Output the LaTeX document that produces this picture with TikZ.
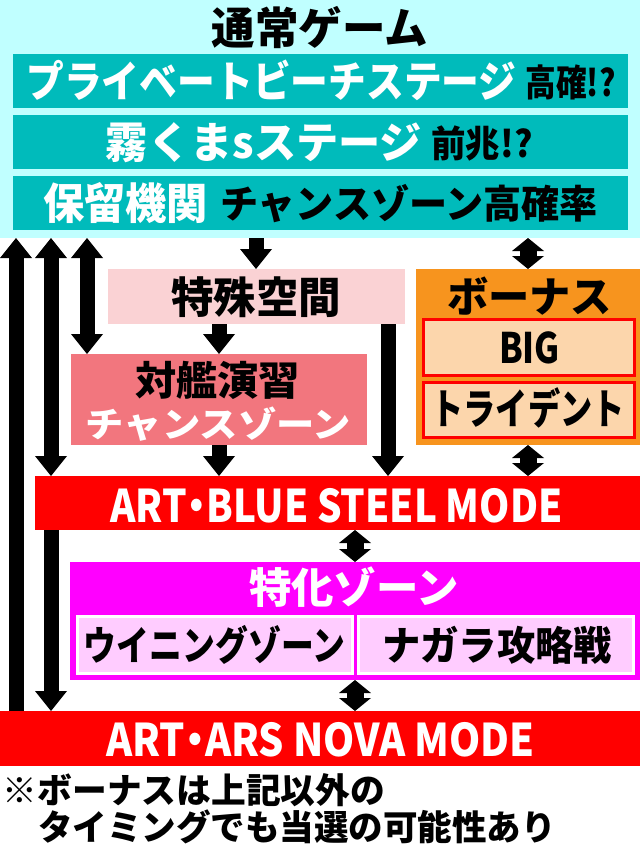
\documentclass[tikz,border=0pt]{standalone}
\usepackage{fontspec}
\usepackage{graphicx}
\setmainfont{Noto Sans CJK JP}[BoldFont={Noto Sans CJK JP Black}]
\newfontfamily\jpp{Noto Sans CJK JP}[RawFeature=+palt, BoldFont={Noto Sans CJK JP Black}]
\usetikzlibrary{arrows.meta}
\definecolor{bgcyan}{RGB}{192,255,255}
\definecolor{teal1}{RGB}{0,187,187}
\definecolor{palepink}{RGB}{250,210,212}
\definecolor{salmon}{RGB}{242,118,126}
\definecolor{orange1}{RGB}{247,148,30}
\definecolor{peach}{RGB}{252,214,172}
\definecolor{red1}{RGB}{255,0,0}
\definecolor{magenta1}{RGB}{255,0,255}
\definecolor{lilac}{RGB}{255,204,255}
\newcommand{\fz}[1]{\fontsize{#1}{#1}\selectfont\bfseries}
\newcommand{\fw}[2]{\resizebox{#1pt}{\height}{#2}}
\tikzset{
  box/.style={anchor=north west, inner sep=0pt, outer sep=0pt},
  txt/.style={inner sep=0pt, outer sep=0pt, anchor=center},
  fs/.style={font=\fz{#1}, text height=\fpeval{0.84*#1}pt, text depth=\fpeval{0.08*#1}pt},
  fat/.style={line width=15pt, -{Triangle[width=32pt,length=20pt,line width=0pt]}},
  fatboth/.style={line width=15pt, {Triangle[width=32pt,length=20pt,line width=0pt]}-{Triangle[width=32pt,length=20pt,line width=0pt]}},
  dbl/.style={line width=17pt, {Triangle[width=32pt,length=13pt,line width=0pt]}-{Triangle[width=32pt,length=13pt,line width=0pt]}}
}
\begin{document}
\begin{tikzpicture}[x=1pt,y=-1pt]
\useasboundingbox (0,0) rectangle (640,848);
\fill[white] (0,0) rectangle (640,848);
% background and boxes
\node[box, fill=bgcyan, minimum width=640pt, minimum height=238pt] (bg) at (0,0) {};
\node[box, fill=teal1, minimum width=615pt, minimum height=54pt] (t1) at (13,54) {};
\node[box, fill=teal1, minimum width=615pt, minimum height=54pt] (t2) at (13,115) {};
\node[box, fill=teal1, minimum width=615pt, minimum height=54pt] (t3) at (13,176) {};
\node[box, fill=palepink, minimum width=297pt, minimum height=55pt] (sp) at (108,269) {};
\node[box, fill=salmon, minimum width=296pt, minimum height=91pt] (tk) at (71,354) {};
\node[box, fill=orange1, minimum width=224pt, minimum height=176pt] (bn) at (416,269) {};
\node[box, fill=peach, draw=red1, line width=3pt, minimum width=211pt, minimum height=56pt] (big) at (423,319) {};
\node[box, fill=peach, draw=red1, line width=3pt, minimum width=211pt, minimum height=55pt] (tri) at (423,382) {};
\node[box, fill=red1, minimum width=605pt, minimum height=54pt] (ab) at (35,476) {};
\node[box, fill=magenta1, minimum width=570pt, minimum height=118pt] (tz) at (70,562) {};
\node[box, fill=lilac, draw=white, line width=3pt, minimum width=275pt, minimum height=57pt] (wz) at (77,616) {};
\node[box, fill=lilac, draw=white, line width=3pt, minimum width=275pt, minimum height=57pt] (ng) at (358,616) {};
\node[box, fill=red1, minimum width=640pt, minimum height=55pt] (an) at (0,711) {};
% texts
\node[txt, fs=44] (title) at (320,28) {\fw{216}{通常ゲーム}};
\node[txt, fs=43, text=white] (t1a) at (271.5,81) {\fw{490}{プライベートビーチステージ}};
\node[txt, fs=37] (t1b) at (570.5,82) {\fw{90}{高確!?}};
\node[txt, fs=43, text=white] (t2a) at (264,142) {\fw{316}{霧くまsステージ}};
\node[txt, fs=37] (t2b) at (482,143) {\fw{101}{前兆!?}};
\node[txt, fs=43, text=white] (t3a) at (125.5,203) {\fw{165}{保留機関}};
\node[txt, fs=39] (t3b) at (409,204) {\fw{378}{チャンスゾーン高確率}};
\node[txt, fs=43] (spt) at (256,297) {\fw{170}{特殊空間}};
\node[txt, fs=40] (tkt) at (217.5,380) {\fw{165}{対艦演習}};
\node[txt, fs=35, text=white] (tkc) at (218.5,424) {\fw{265}{チャンスゾーン}};
\node[txt, fs=42] (bnt) at (529.5,297) {\fw{165}{ボーナス}};
\node[txt, fs=42] (bigt) at (529.5,348) {\fw{61}{BIG}};
\node[txt, fs=42] (trit) at (528,409) {\fw{193}{トライデント}};
\node[txt, fs=45, text=white] (abt) at (336.5,505) {\fw{452}{\jpp\bfseries ART・BLUE STEEL MODE}};
\node[txt, fs=42, text=white] (tzt) at (354,588) {\fw{210}{特化ゾーン}};
\node[txt, fs=40] (wzt) at (214.5,645) {\fw{261}{ウイニングゾーン}};
\node[txt, fs=40] (ngt) at (497,645) {\fw{230}{ナガラ攻略戦}};
\node[txt, fs=45, text=white] (ant) at (320.5,739) {\fw{428}{\jpp\bfseries ART・ARS NOVA MODE}};
\node[txt, fs=35, anchor=west] (f1) at (3,790) {\fw{382}{※ボーナスは上記以外の}};
\node[txt, fs=35, anchor=west] (f2) at (38,827) {\fw{518}{タイミングでも当選の可能性あり}};
% arrow x positions
\coordinate (xa1) at (16,0);
\coordinate (xa2) at (51,0);
\coordinate (xa3) at (87,0);
\coordinate (xa4) at (256,0);
\coordinate (xa5) at (219,0);
\coordinate (xa7) at (388,0);
\coordinate (xb) at (528,0);
\coordinate (xc) at (355,0);
% arrows
\draw[fat] (an.north -| xa1) -- (bg.south -| xa1);
\draw[fatboth] (bg.south -| xa2) -- (ab.north -| xa2);
\draw[fat] (ab.south -| xa2) -- (an.north -| xa2);
\draw[fatboth] (bg.south -| xa3) -- (tk.north -| xa3);
\draw[fat] (bg.south -| xa4) -- (sp.north -| xa4);
\draw[fat] (sp.south -| xa5) -- (tk.north -| xa5);
\draw[fat] (tk.south -| xa5) -- (ab.north -| xa5);
\draw[fat] (sp.south -| xa7) -- (ab.north -| xa7);
\draw[dbl] (bg.south -| xb) -- (bn.north -| xb);
\draw[dbl] (bn.south -| xb) -- (ab.north -| xb);
\draw[dbl] (ab.south -| xc) -- (tz.north -| xc);
\draw[dbl] (tz.south -| xc) -- (an.north -| xc);
\end{tikzpicture}
\end{document}
